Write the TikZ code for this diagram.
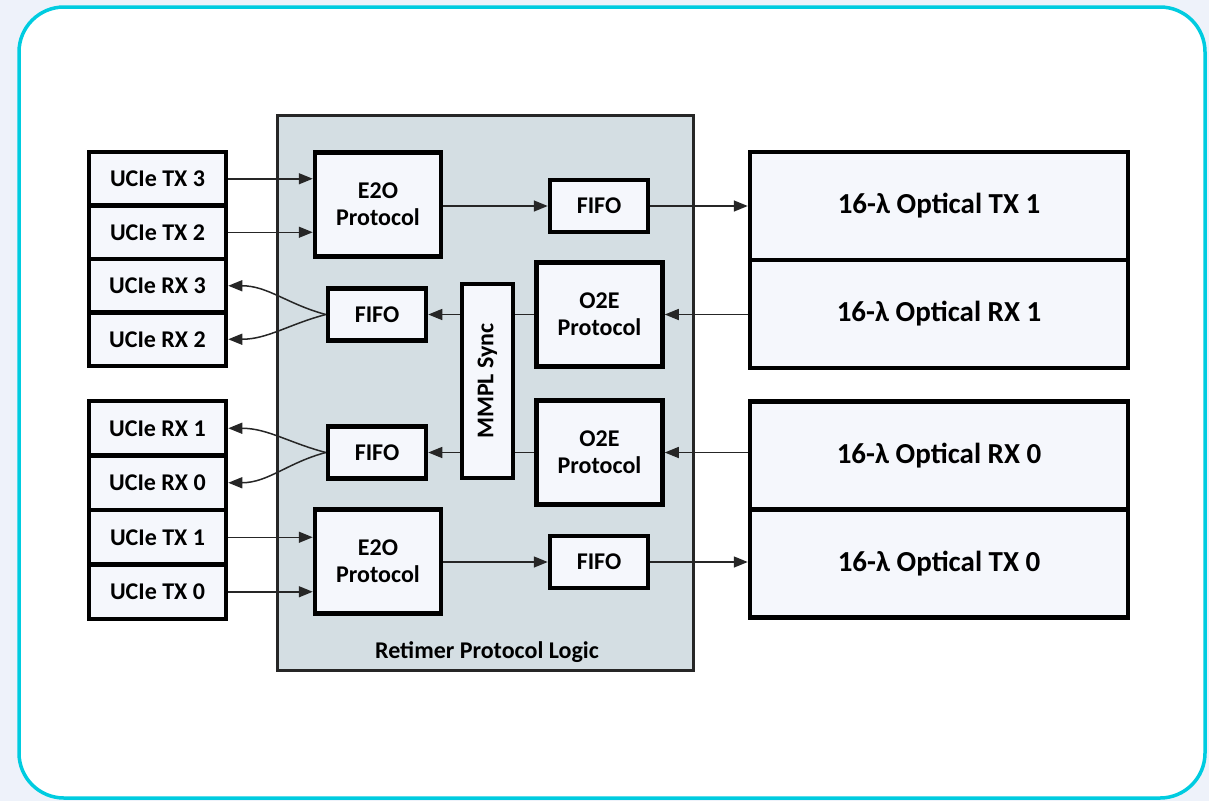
\documentclass[tikz,border=0pt]{standalone}
\usepackage{fontspec}
\setmainfont{Carlito}
\usetikzlibrary{arrows.meta}
\definecolor{pagebg}{RGB}{238,242,250}
\definecolor{frame}{RGB}{0,204,224}
\definecolor{boxfill}{RGB}{245,247,252}
\definecolor{logicfill}{RGB}{212,222,227}

\begin{document}
\begin{tikzpicture}[x=1pt,y=-1pt,>={Triangle[length=14pt,width=11pt]},
  blk/.style={draw=black,line width=4.5pt,fill=boxfill,align=center,
    font=\fontsize{24}{27}\selectfont\bfseries,inner sep=0pt},
  ucie/.style={blk,minimum width=137pt,minimum height=53.5pt},
  optic/.style={blk,minimum width=378pt,minimum height=108pt,
    font=\fontsize{29}{32}\selectfont\bfseries},
  fifo/.style={blk,minimum width=98pt,minimum height=52pt},
  proto/.style={blk,minimum width=126pt,minimum height=104pt},
  link/.style={line width=1.5pt,draw=black!85}]

% background and frame
\fill[pagebg] (0,0) rectangle (1209,801);
\draw[frame,fill=white,line width=3.5pt,rounded corners=45pt] (19,7) rectangle (1205,798);

% retimer logic
\node[draw=black!85,line width=3pt,fill=logicfill,minimum width=416pt,
  minimum height=555pt] (rt) at (485.5,393) {};
\node[font=\fontsize{24}{27}\selectfont\bfseries] (rtl) at (487,652) {Retimer Protocol Logic};

% UCIe side
\node[ucie] (tx3) at (157.5,178.75) {UCIe TX 3};
\node[ucie] (tx2) at (157.5,232.25) {UCIe TX 2};
\node[ucie] (rx3) at (157.5,285.75) {UCIe RX 3};
\node[ucie] (rx2) at (157.5,339.25) {UCIe RX 2};
\node[ucie,minimum height=54.5pt] (rx1) at (157.5,428.25) {UCIe RX 1};
\node[ucie,minimum height=54.5pt] (rx0) at (157.5,482.75) {UCIe RX 0};
\node[ucie,minimum height=54.5pt] (tx1) at (157.5,537.25) {UCIe TX 1};
\node[ucie,minimum height=54.5pt] (tx0) at (157.5,591.75) {UCIe TX 0};

% protocol blocks
\node[proto] (e2oa) at (378,204.5) {E2O\\Protocol};
\node[proto] (e2ob) at (378,561.5) {E2O\\Protocol};
\node[proto] (o2ea) at (599.5,314.5) {O2E\\Protocol};
\node[proto] (o2eb) at (599.5,452.5) {O2E\\Protocol};
\node[fifo] (fifoa) at (599,206) {FIFO};
\node[fifo] (fifob) at (377,314.5) {FIFO};
\node[fifo] (fifoc) at (377,452.5) {FIFO};
\node[fifo] (fifod) at (599,562) {FIFO};
\node[blk,minimum width=51pt,minimum height=194pt] (mmpl) at (487.5,381)
  {\rotatebox{90}{MMPL Sync}};

% optical side
\node[optic] (otx1) at (939,206) {16-λ Optical TX 1};
\node[optic] (orx1) at (939,314) {16-λ Optical RX 1};
\node[optic] (orx0) at (939,455.5) {16-λ Optical RX 0};
\node[optic] (otx0) at (939,563.5) {16-λ Optical TX 0};

% TX paths
\draw[link,->] (tx3.east) -- (tx3.east -| e2oa.west);
\draw[link,->] (tx2.east) -- (tx2.east -| e2oa.west);
\draw[link,->] (e2oa.east |- fifoa) -- (fifoa.west);
\draw[link,->] (fifoa.east) -- (otx1.west);
\draw[link,->] (tx1.east) -- (tx1.east -| e2ob.west);
\draw[link,->] (tx0.east) -- (tx0.east -| e2ob.west);
\draw[link,->] (e2ob.east |- fifod) -- (fifod.west);
\draw[link,->] (fifod.east) -- (fifod.east -| otx0.west);

% RX paths
\draw[link,->] (orx1.west |- o2ea) -- (o2ea.east);
\draw[link] (o2ea.west) -- (o2ea.west -| mmpl.east);
\draw[link,->] (mmpl.west |- fifob) -- (fifob.east);
\draw[link,->] (fifob.west) to[out=165,in=0] (rx3.east);
\draw[link,->] (fifob.west) to[out=195,in=0] (rx2.east);
\draw[link,->] (orx0.west |- o2eb) -- (o2eb.east);
\draw[link] (o2eb.west) -- (o2eb.west -| mmpl.east);
\draw[link,->] (mmpl.west |- fifoc) -- (fifoc.east);
\draw[link,->] (fifoc.west) to[out=165,in=0] (rx1.east);
\draw[link,->] (fifoc.west) to[out=195,in=0] (rx0.east);

\end{tikzpicture}
\end{document}
